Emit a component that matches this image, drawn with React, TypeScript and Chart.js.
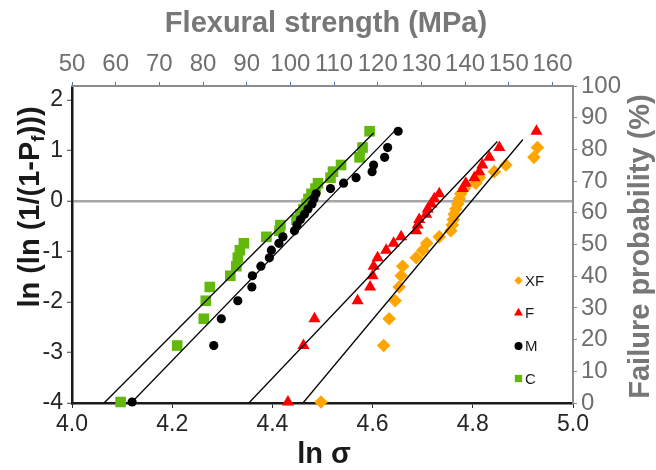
import React, { useEffect, useRef } from "react";
import { Chart, registerables } from "chart.js";

Chart.register(...registerables);

// Weibull plot: ln(ln(1/(1-Pf))) against ln(strength) for four groups.
// Ranked ordinates shared by all groups (27 specimens each).
const lnLnValues = [
  -3.98, -2.862, -2.331, -1.974, -1.702, -1.479, -1.29, -1.123, -0.973,
  -0.836, -0.708, -0.589, -0.475, -0.367, -0.261, -0.158, -0.057, 0.044,
  0.145, 0.248, 0.354, 0.464, 0.583, 0.715, 0.867, 1.061, 1.384,
];

// ln of flexural strength, sorted ascending
const lnStrengthC = [
  4.097, 4.21, 4.263, 4.267, 4.275, 4.316, 4.328, 4.331, 4.335, 4.343, 4.388,
  4.414, 4.416, 4.448, 4.456, 4.462, 4.468, 4.472, 4.478, 4.486, 4.491, 4.516,
  4.521, 4.537, 4.574, 4.58, 4.594,
];
const lnStrengthM = [
  4.12, 4.283, 4.298, 4.331, 4.359, 4.36, 4.377, 4.394, 4.398, 4.413, 4.421,
  4.444, 4.449, 4.456, 4.464, 4.471, 4.479, 4.483, 4.487, 4.516, 4.542, 4.567,
  4.599, 4.602, 4.624, 4.63, 4.651,
];
const lnStrengthF = [
  4.431, 4.462, 4.484, 4.57, 4.595, 4.6, 4.602, 4.61, 4.627, 4.642, 4.657,
  4.687, 4.69, 4.693, 4.707, 4.71, 4.717, 4.723, 4.733, 4.78, 4.786, 4.803,
  4.813, 4.819, 4.833, 4.853, 4.927,
];
const lnStrengthXF = [
  4.497, 4.622, 4.633, 4.645, 4.653, 4.657, 4.66, 4.687, 4.7, 4.708, 4.733,
  4.756, 4.759, 4.761, 4.763, 4.766, 4.77, 4.773, 4.776, 4.783, 4.806, 4.813,
  4.843, 4.866, 4.922, 4.929,
];

// Weibull fit lines (end points)
const fitCX = [4.064, 4.602];
const fitCY = [-4, 1.35];
const fitMX = [4.118, 4.647];
const fitMY = [-4, 1.42];
const fitFX = [4.353, 4.849];
const fitFY = [-4, 1.18];
const fitXFX = [4.461, 4.9];
const fitXFY = [-4, 1.22];

// Axis ticks
const lnSigmaTicks = [4.0, 4.2, 4.4, 4.6, 4.8, 5.0];
const lnLnTicks = [-4, -3, -2, -1, 0, 1, 2];
const strengthTicks = [50, 60, 70, 80, 90, 100, 110, 120, 130, 140, 150, 160];
const probabilityTicks = [0, 10, 20, 30, 40, 50, 60, 70, 80, 90, 100];

const FONT = "'Liberation Sans', Arial, Helvetica, sans-serif";
const GRAY_TEXT = "#6f6f6f";
const GRAY_AXIS = "#8c8c8c";

const toPoints = (xs: number[], ys: number[]) =>
  xs.map((x, i) => ({ x, y: ys[i] }));

type Series = {
  label: string;
  color: string;
  style: string;
  radius: number;
  xs: number[];
};

const series: Series[] = [
  { label: "XF", color: "#ffa500", style: "rectRot", radius: 6.8, xs: lnStrengthXF },
  { label: "F", color: "#ff0000", style: "triangle", radius: 7, xs: lnStrengthF },
  { label: "M", color: "#000000", style: "circle", radius: 4.6, xs: lnStrengthM },
  { label: "C", color: "#62b90b", style: "rect", radius: 7.5, xs: lnStrengthC },
];
const seriesOrder: Record<string, number> = { XF: 4, F: 3, C: 2, M: 1 };

function drawMarker(ctx: CanvasRenderingContext2D, style: string, x: number, y: number, r: number) {
  ctx.beginPath();
  if (style === "rectRot") {
    ctx.moveTo(x, y - r);
    ctx.lineTo(x + r, y);
    ctx.lineTo(x, y + r);
    ctx.lineTo(x - r, y);
    ctx.closePath();
  } else if (style === "triangle") {
    ctx.moveTo(x, y - r);
    ctx.lineTo(x + r * 0.866, y + r * 0.5);
    ctx.lineTo(x - r * 0.866, y + r * 0.5);
    ctx.closePath();
  } else if (style === "circle") {
    ctx.arc(x, y, r, 0, Math.PI * 2);
  } else {
    const s = r * Math.SQRT1_2;
    ctx.rect(x - s, y - s, 2 * s, 2 * s);
  }
  ctx.fill();
}

const decorPlugin = {
  id: "weibullDecor",
  afterDraw(chart: any) {
    const ctx: CanvasRenderingContext2D = chart.ctx;
    const a = chart.chartArea;
    ctx.save();
    ctx.textAlign = "center";
    ctx.textBaseline = "middle";
    ctx.font = `bold 29px ${FONT}`;

    ctx.fillStyle = "#777777";
    ctx.fillText("Flexural strength (MPa)", 326, 24);

    ctx.fillStyle = "#1a1a1a";
    ctx.fillText("ln σ", 324, 455);

    ctx.save();
    ctx.translate(641, (a.top + a.bottom) / 2 + 2);
    ctx.rotate(-Math.PI / 2);
    ctx.fillStyle = "#777777";
    ctx.fillText("Failure probability (%)", 0, 0);
    ctx.restore();

    // left title with subscript f
    ctx.save();
    ctx.translate(31, 207);
    ctx.rotate(-Math.PI / 2);
    ctx.fillStyle = "#1a1a1a";
    ctx.textAlign = "left";
    const mainFont = `bold 29px ${FONT}`;
    const subFont = `bold 19px ${FONT}`;
    const p1 = "ln (ln (1/(1-P";
    const p2 = "f";
    const p3 = ")))";
    ctx.font = mainFont;
    const w1 = ctx.measureText(p1).width;
    const w3 = ctx.measureText(p3).width;
    ctx.font = subFont;
    const w2 = ctx.measureText(p2).width;
    let x0 = -(w1 + w2 + w3) / 2;
    ctx.font = mainFont;
    ctx.fillText(p1, x0, 0);
    x0 += w1;
    ctx.font = subFont;
    ctx.fillText(p2, x0, 8);
    x0 += w2;
    ctx.font = mainFont;
    ctx.fillText(p3, x0, 0);
    ctx.restore();

    // legend
    const legendY = [280.5, 313, 346, 378.5];
    ctx.font = `15px ${FONT}`;
    ctx.textAlign = "left";
    series.forEach((s, i) => {
      ctx.fillStyle = s.color;
      const rr = s.style === "circle" ? 4 : s.style === "rect" ? 5.2 : s.style === "triangle" ? 5.2 : 4.2;
      drawMarker(ctx, s.style, 518.5, legendY[i], rr);
      ctx.fillStyle = "#1a1a1a";
      ctx.fillText(s.label, 525, legendY[i] + 1);
    });
    ctx.restore();
  },
};

export default function App() {
  const canvasRef = useRef<HTMLCanvasElement | null>(null);

  useEffect(() => {
    if (!canvasRef.current) return;

    const scatterSets = series.map((s) => ({
      type: "scatter" as const,
      label: s.label,
      data: toPoints(s.xs, lnLnValues.slice(0, s.xs.length)),
      pointStyle: s.style,
      pointRadius: s.radius,
      pointBackgroundColor: s.color,
      pointBorderColor: s.color,
      pointBorderWidth: 0,
      showLine: false,
      clip: false as const,
      order: seriesOrder[s.label],
      xAxisID: "x",
      yAxisID: "y",
    }));

    const fits = [
      [fitXFX, fitXFY],
      [fitFX, fitFY],
      [fitMX, fitMY],
      [fitCX, fitCY],
    ].map(([xs, ys], i) => ({
      type: "scatter" as const,
      label: `fit-${i}`,
      data: toPoints(xs, ys),
      showLine: true,
      borderColor: "#000000",
      borderWidth: 1.3,
      pointRadius: 0,
      order: 0,
      xAxisID: "x",
      yAxisID: "y",
    }));

    const setTicks = (values: number[]) => (scale: any) => {
      scale.ticks = values.map((v) => ({ value: v }));
    };

    const chart = new Chart(canvasRef.current, {
      type: "scatter",
      data: { datasets: [...scatterSets, ...fits] as any },
      plugins: [decorPlugin],
      options: {
        animation: false,
        responsive: false,
        devicePixelRatio: 1,
        layout: { padding: 0 },
        plugins: {
          legend: { display: false },
          tooltip: { enabled: false },
        },
        scales: {
          x: {
            type: "linear",
            position: "bottom",
            min: 4,
            max: 5,
            afterBuildTicks: setTicks(lnSigmaTicks),
            afterFit: (s: any) => {
              s.height = 67;
            },
            ticks: {
              color: "#262626",
              font: { family: FONT, size: 23 },
              padding: 3,
              maxRotation: 0,
              autoSkip: false,
              callback: (v: any) => Number(v).toFixed(1),
            },
            grid: {
              drawOnChartArea: false,
              drawTicks: true,
              tickLength: 5,
              tickColor: "#262626",
              tickWidth: 1,
            },
            border: { display: true, color: "#1a1a1a", width: 2.5 },
          },
          y: {
            type: "linear",
            position: "left",
            min: -4,
            max: 2.28,
            afterBuildTicks: setTicks(lnLnTicks),
            afterFit: (s: any) => {
              s.width = 72;
            },
            ticks: {
              color: "#262626",
              font: { family: FONT, size: 23 },
              padding: 4,
              autoSkip: false,
            },
            grid: {
              drawOnChartArea: true,
              color: (c: any) =>
                c.tick && c.tick.value === 0 ? "#a6a6a6" : "rgba(0,0,0,0)",
              lineWidth: 2.5,
              tickLength: 5,
              tickColor: "#404040",
              tickWidth: 1,
            },
            border: { display: true, color: "#1a1a1a", width: 2.5 },
          },
          x2: {
            type: "linear",
            position: "top",
            min: 50,
            max: 164.7,
            afterBuildTicks: setTicks(strengthTicks),
            afterFit: (s: any) => {
              s.height = 86;
            },
            ticks: {
              color: GRAY_TEXT,
              font: { family: FONT, size: 24 },
              padding: 3,
              maxRotation: 0,
              autoSkip: false,
            },
            grid: {
              drawOnChartArea: false,
              tickLength: 4,
              tickColor: "#4472c4",
              tickWidth: 1,
            },
            border: { display: true, color: GRAY_AXIS, width: 2 },
          },
          y2: {
            type: "linear",
            position: "right",
            min: 0,
            max: 100,
            afterBuildTicks: setTicks(probabilityTicks),
            afterFit: (s: any) => {
              s.width = 83;
            },
            ticks: {
              color: GRAY_TEXT,
              font: { family: FONT, size: 24 },
              padding: 4,
              autoSkip: false,
            },
            grid: {
              drawOnChartArea: false,
              tickLength: 4,
              tickColor: GRAY_AXIS,
              tickWidth: 1,
            },
            border: { display: true, color: GRAY_AXIS, width: 2 },
          },
        },
      } as any,
    });

    return () => chart.destroy();
  }, []);

  return (
    <div
      style={{
        position: "absolute",
        left: 0,
        top: 0,
        width: 656,
        height: 470,
        background: "#ffffff",
      }}
    >
      <canvas
        ref={canvasRef}
        width={656}
        height={470}
        style={{ display: "block", width: 656, height: 470 }}
      />
    </div>
  );
}
